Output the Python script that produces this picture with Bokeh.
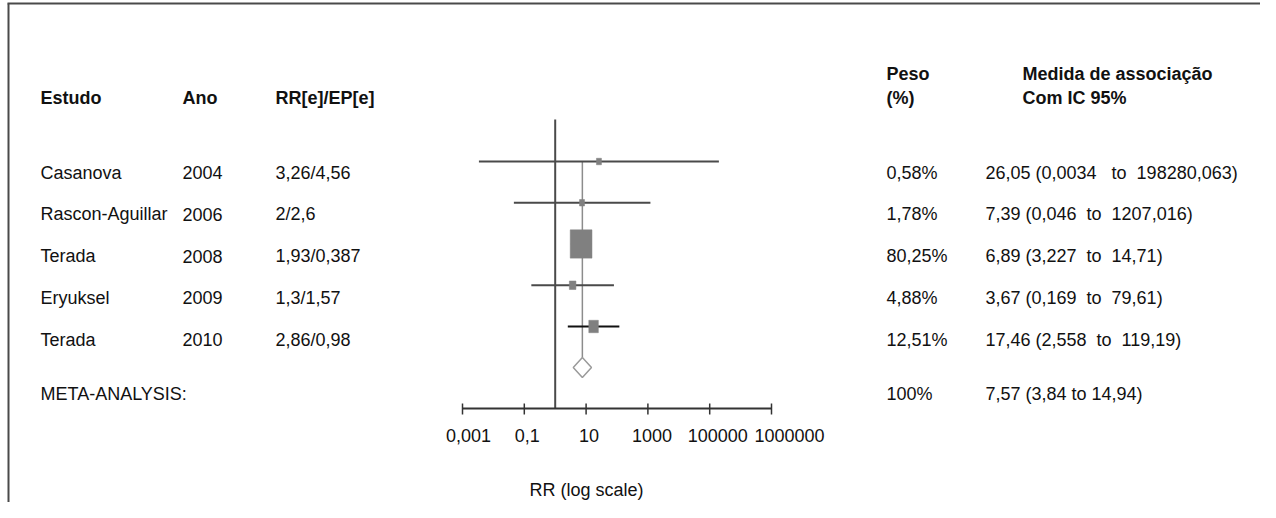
import math
from bokeh.plotting import figure
from bokeh.models import Range1d, LogScale, ColumnDataSource
from bokeh.core.properties import value
from bokeh.embed import file_html
from bokeh.resources import INLINE

# ---------------- data ----------------
studies = ["Casanova", "Rascon-Aguillar", "Terada", "Eryuksel", "Terada"]
years = ["2004", "2006", "2008", "2009", "2010"]
rr_ep = ["3,26/4,56", "2/2,6", "1,93/0,387", "1,3/1,57", "2,86/0,98"]
weights = [0.58, 1.78, 80.25, 4.88, 12.51]
rr = [26.05, 7.39, 6.89, 3.67, 17.46]
ci_lo = [0.0034, 0.046, 3.227, 0.169, 2.558]
ci_hi = [198280.063, 1207.016, 14.71, 79.61, 119.19]

meta_name = "META-ANALYSIS:"
meta_weight = 100
meta_rr = 7.57
meta_lo = 3.84
meta_hi = 14.94

tick_values = [0.001, 0.1, 10, 1000, 100000, 10000000]
tick_labels = ["0,001", "0,1", "10", "1000", "100000", "1000000"]

headers = ["Estudo", "Ano", "RR[e]/EP[e]"]
weight_header = ["Peso", "(%)"]
measure_header = ["Medida de associação", "Com IC 95%"]
axis_caption = "RR (log scale)"


def br(v):
    s = repr(float(v))
    if s.endswith(".0"):
        s = s[:-2]
    return s.replace(".", ",")


SP = "\u00a0 "
weight_txt = [br(w) + "%" for w in weights]
ci_txt = [f"{br(r)} ({br(l)}{SP}to{SP}{br(h)})" for r, l, h in zip(rr, ci_lo, ci_hi)]
ci_txt[0] = ci_txt[0].replace(SP + "to", "\u00a0" + SP + "to")
meta_weight_txt = br(meta_weight) + "%"
meta_ci_txt = f"{br(meta_rr)} ({br(meta_lo)} to {br(meta_hi)})"

# ---------------- layout ----------------
W, H = 1260, 502
FONT = value("Liberation Sans")
FS = "18px"
TXT = "#111111"

n = len(studies)
y_forest = [161 + 41.25 * i for i in range(n)]
y_text = [172 + 41.75 * i for i in range(n)]
y_meta_text = 393
y_diamond = 367
d_half = 10
y_axis = 408
tick_label_dx = [6, 3, 3, 4, 8, 18]

# log scale: 1e-3 at x 462, 1e7 at x 771
px_dec = (771 - 462) / 10.0
lmin = -3 - 462 / px_dec
lmax = 7 + (W - 771) / px_dec

p = figure(
    width=W, height=H,
    x_range=Range1d(0, W), y_range=Range1d(H, 0),
    output_backend="svg", toolbar_location=None,
    x_axis_location=None, y_axis_location=None,
    min_border=0, outline_line_color=None,
    background_fill_color="white", border_fill_color="white",
)
p.extra_x_ranges = {"rr": Range1d(10 ** lmin, 10 ** lmax)}
p.extra_x_scales = {"rr": LogScale()}
p.xgrid.visible = False
p.ygrid.visible = False

# frame border (top and left only)
p.segment(x0=[7, 8], y0=[3, 3], x1=[W, 8], y1=[3, H], line_color="#4a4a4a", line_width=2)

# text columns
def col(x, ys, texts, bold=False):
    src = ColumnDataSource(dict(x=[x] * len(texts), y=ys, t=texts))
    p.text(x="x", y="y", text="t", source=src, text_font=FONT, text_font_size=FS,
           text_color=TXT, text_align="left", text_baseline="middle",
           text_font_style="bold" if bold else "normal")

col(40, [97], [headers[0]], bold=True)
col(182, [97], [headers[1]], bold=True)
col(275, [97], [headers[2]], bold=True)
col(886, [73, 97], weight_header, bold=True)
col(1022, [73, 97], measure_header, bold=True)

col(40, y_text + [y_meta_text], studies + [meta_name])
col(182, y_text, years)
col(275, y_text, rr_ep)
col(886, y_text + [y_meta_text], weight_txt + [meta_weight_txt])
col(985, y_text + [y_meta_text], ci_txt + [meta_ci_txt])

# forest plot
p.segment(x0=[1], x1=[1], y0=[119], y1=[y_axis], x_range_name="rr",
          line_color="#4a4a4a", line_width=2)
p.segment(x0=[meta_rr], x1=[meta_rr], y0=[y_forest[0]], y1=[y_diamond - d_half],
          x_range_name="rr", line_color="#8c8c8c", line_width=1.5)

ci_colors = ["#4a4a4a", "#4a4a4a", "#4a4a4a", "#4a4a4a", "#111111"]
p.segment(x0=ci_lo, x1=ci_hi, y0=y_forest, y1=y_forest, x_range_name="rr",
          line_color=ci_colors, line_width=2)

bw = [max(5.0, 1.6 + 2.25 * math.sqrt(w)) for w in weights]
bh = [b * 1.3 for b in bw]
p.rect(x=rr, y=y_forest, width=bw, height=bh, width_units="screen", height_units="screen",
       x_range_name="rr", fill_color="#808080", line_color="#808080", line_width=0.5)

p.patch(x=[meta_lo, meta_rr, meta_hi, meta_rr],
        y=[y_diamond, y_diamond - d_half, y_diamond, y_diamond + d_half],
        x_range_name="rr", fill_color="white", line_color="#9a9a9a", line_width=1.5)

# axis
p.segment(x0=[tick_values[0]], x1=[tick_values[-1]], y0=[y_axis], y1=[y_axis],
          x_range_name="rr", line_color="#333333", line_width=2)
p.segment(x0=tick_values, x1=tick_values, y0=[y_axis - 5] * len(tick_values),
          y1=[y_axis + 6] * len(tick_values), x_range_name="rr",
          line_color="#333333", line_width=1.5)
p.text(x=tick_values, y=[435] * len(tick_values), text=tick_labels, x_range_name="rr",
       x_offset=tick_label_dx, text_font=FONT, text_font_size=FS, text_color=TXT,
       text_align="center", text_baseline="middle")
p.text(x=[586], y=[489], text=[axis_caption], text_font=FONT, text_font_size=FS,
       text_color=TXT, text_align="center", text_baseline="middle")

open("out.html", "w").write(file_html(p, INLINE))
